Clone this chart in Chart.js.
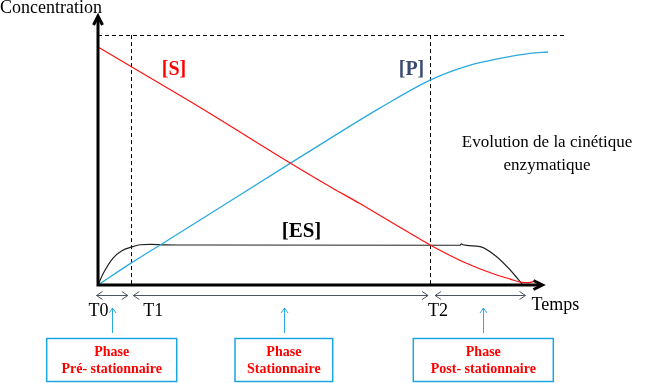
<!DOCTYPE html>
<html>
<head>
<meta charset="utf-8">
<script src="https://cdn.jsdelivr.net/npm/chart.js@4"></script>
<style>
  html, body { margin: 0; padding: 0; background: #fff; }
  canvas { display: block; }
  .fl { font-family: "Liberation Serif"; position: absolute; left: -999px; top: 0; }
</style>
</head>
<body>
<span class="fl">Concentration <b>Phase</b></span>
<canvas id="c" width="662" height="383"></canvas>
<script>
// ---- Data (time in arbitrary units, concentration in % of [S]0) ----
const timeS = [0, 7.33, 22.7, 42.7, 51.6, 58.2, 71.9, 73.8, 81.1, 88.6, 91.6, 94.2, 95.6, 96.7];
const valS  = [100, 91.8, 74.6, 51.3, 41.3, 34.2, 18.9, 16.8, 9.8, 4.2, 2.5, 1.1, 1.0, 1.4];

const timeP = [0, 7.5, 15.6, 42.7, 51.6, 62.7, 73.8, 82.0, 89.3, 96.0, 100];
const valP  = [0, 9.4, 18.9, 51.1, 61.6, 74.4, 86.1, 92.0, 95.2, 97.3, 97.9];

const timeES = [0, 1.1, 3.3, 5.3, 7.5, 9.3, 11.6, 14.9, 22.7, 80.4, 80.8, 81.1, 84.9, 88.6, 91.6, 94.2];
const valES  = [0, 4.6, 11.2, 14.4, 16.0, 16.9, 17.1, 16.9, 16.8, 16.7, 17.3, 16.9, 16.1, 11.9, 6.3, 0.5];

const phaseTimes  = [0, 7.4, 73.8];          // T0, T1, T2
const phaseLabels = ['T0', 'T1', 'T2'];
const phaseEnd    = 95;
const maxLevel    = 105;                      // dashed plateau level
const boxTitles   = ['Phase', 'Phase', 'Phase'];
const boxLines    = ['Pré- stationnaire', 'Stationnaire', 'Post- stationnaire'];

const pts = (t, v) => t.map((x, i) => ({ x: x, y: v[i] }));

const SERIF = '"Liberation Serif", "DejaVu Serif", serif';

function chevron(ctx, x, y, dx, dy, len, half) {
  const px = -dy, py = dx;
  ctx.beginPath();
  ctx.moveTo(x - dx * len + px * half, y - dy * len + py * half);
  ctx.lineTo(x, y);
  ctx.lineTo(x - dx * len - px * half, y - dy * len - py * half);
  ctx.stroke();
}

const diagram = {
  id: 'diagram',
  beforeDraw(chart) {
    const ctx = chart.ctx;
    ctx.save();
    ctx.fillStyle = '#fff';
    ctx.fillRect(0, 0, chart.width, chart.height);
    ctx.restore();
  },
  beforeDatasetsDraw(chart) {
    const ctx = chart.ctx, xs = chart.scales.x, ys = chart.scales.y;
    const X = v => xs.getPixelForValue(v), Y = v => ys.getPixelForValue(v);
    ctx.save();
    ctx.strokeStyle = '#000';
    ctx.lineWidth = 1;
    ctx.setLineDash([4, 3]);
    ctx.beginPath();
    ctx.moveTo(X(0), Math.round(Y(maxLevel)) + 0.5);
    ctx.lineTo(X(103.8), Math.round(Y(maxLevel)) + 0.5);
    [phaseTimes[1], phaseTimes[2]].forEach(t => {
      const px = Math.round(X(t)) + 0.5;
      ctx.moveTo(px, Y(maxLevel));
      ctx.lineTo(px, Y(0));
    });
    ctx.stroke();
    ctx.restore();
  },
  afterDatasetsDraw(chart) {
    const ctx = chart.ctx, xs = chart.scales.x, ys = chart.scales.y;
    const X = v => xs.getPixelForValue(v), Y = v => ys.getPixelForValue(v);
    const x0 = X(0), y0 = Y(0);
    ctx.save();
    ctx.strokeStyle = '#000';
    ctx.lineWidth = 3;
    const yTip = 16, xTip = 542.5;
    ctx.beginPath();
    ctx.moveTo(x0, y0 + 1.5);
    ctx.lineTo(x0, yTip + 2);
    ctx.moveTo(x0 - 1.5, y0);
    ctx.lineTo(xTip - 2, y0);
    ctx.stroke();
    chevron(ctx, x0, yTip, 0, -1, 9, 4.5);
    chevron(ctx, xTip, y0, 1, 0, 9, 4.5);

    ctx.strokeStyle = '#4d5563';
    ctx.lineWidth = 1;
    const ay = y0 + 10.5;
    const segs = [
      [X(phaseTimes[0]) - 1.5, X(phaseTimes[1]) - 3.5],
      [X(phaseTimes[1]) + 2, X(phaseTimes[2]) - 2],
      [X(phaseTimes[2]) + 5, X(phaseEnd)]
    ];
    segs.forEach(([a, b]) => {
      ctx.beginPath();
      ctx.moveTo(a, ay);
      ctx.lineTo(b, ay);
      ctx.stroke();
      chevron(ctx, a, ay, -1, 0, 6, 4);
      chevron(ctx, b, ay, 1, 0, 6, 4);
    });

    ctx.fillStyle = '#000';
    ctx.font = '18px ' + SERIF;
    ctx.textAlign = 'center';
    ctx.textBaseline = 'middle';
    const tOff = [0.5, 22, 8];
    phaseTimes.forEach((t, i) => ctx.fillText(phaseLabels[i], X(t) + tOff[i], 311));

    ctx.textAlign = 'left';
    ctx.fillText('Temps', 531.5, 305);
    ctx.font = '18px ' + SERIF;
    ctx.fillText('Concentration', 0, 8);

    ctx.font = 'bold 20px ' + SERIF;
    ctx.textAlign = 'center';
    ctx.fillStyle = '#ff0000';
    ctx.fillText('[S]', 174, 70);
    ctx.fillStyle = '#3b4a72';
    ctx.fillText('[P]', 411.5, 70);
    ctx.fillStyle = '#000';
    ctx.font = 'bold 21px ' + SERIF;
    ctx.fillText('[ES]', 301.5, 232);

    ctx.font = '17px ' + SERIF;
    ctx.fillStyle = '#000';
    ctx.fillText('Evolution de la cinétique', 547, 143);
    ctx.fillText('enzymatique', 547, 166);

    const boxes = [[46.7, 176.7], [235, 332.7], [413.3, 553.3]];
    boxes.forEach(([l, r], i) => {
      const cx = (l + r) / 2;
      ctx.strokeStyle = '#1aa7e1';
      ctx.lineWidth = 1.5;
      ctx.strokeRect(l, 338.5, r - l, 43);
      ctx.lineWidth = 1;
      ctx.strokeStyle = '#29abe2';
      const ax = Math.round(cx) + 0.5;
      ctx.beginPath();
      ctx.moveTo(ax, 333);
      ctx.lineTo(ax, 308);
      ctx.stroke();
      chevron(ctx, ax, 308, 0, -1, 5, 3.5);
      ctx.fillStyle = '#ff0000';
      ctx.font = 'bold 14px ' + SERIF;
      ctx.textAlign = 'center';
      ctx.fillText(boxTitles[i], cx, 352);
      ctx.fillText(boxLines[i], cx, 369.5);
    });
    ctx.restore();
  }
};

function build() {
  new Chart(document.getElementById('c'), {
    type: 'scatter',
    data: {
      datasets: [
        { label: '[S]', data: pts(timeS, valS), showLine: true, borderColor: '#ff1010', borderWidth: 1.2, pointRadius: 0, cubicInterpolationMode: 'monotone', clip: false },
        { label: '[P]', data: pts(timeP, valP), showLine: true, borderColor: '#2aa9e0', borderWidth: 1.3, pointRadius: 0, cubicInterpolationMode: 'monotone', clip: false },
        { label: '[ES]', data: pts(timeES, valES), showLine: true, borderColor: '#222222', borderWidth: 1.2, pointRadius: 0, cubicInterpolationMode: 'monotone', clip: false }
      ]
    },
    options: {
      responsive: false,
      devicePixelRatio: 1,
      animation: false,
      layout: { padding: { left: 98, right: 114, top: 47, bottom: 98 } },
      plugins: { legend: { display: false }, tooltip: { enabled: false } },
      events: [],
      scales: {
        x: { type: 'linear', min: 0, max: 100, display: false },
        y: { type: 'linear', min: 0, max: 100, display: false }
      }
    },
    plugins: [diagram]
  });
}

Promise.all([
  document.fonts.load('17px "Liberation Serif"'),
  document.fonts.load('bold 17px "Liberation Serif"')
]).then(build, build);
</script>
</body>
</html>
